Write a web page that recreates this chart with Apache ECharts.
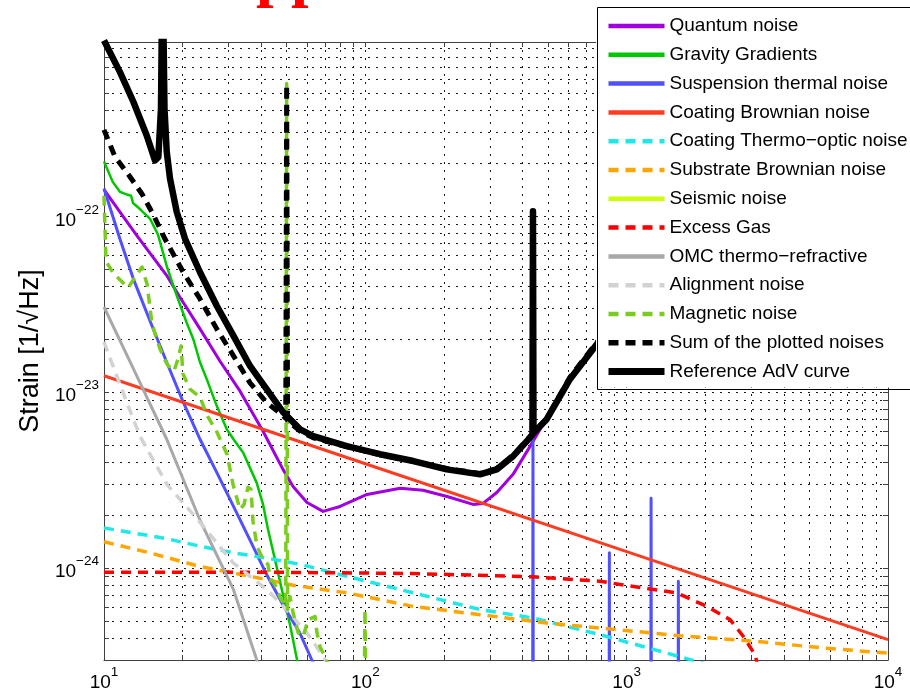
<!DOCTYPE html>
<html><head><meta charset="utf-8">
<script src="https://cdn.jsdelivr.net/npm/echarts@6/dist/echarts.min.js"></script>
<style>html,body{margin:0;padding:0;background:#fff}#c{width:910px;height:696px}</style>
</head><body><div id="c"></div>
<script>
// ---- data: [frequency Hz, strain 1/sqrt(Hz)] ----
const quantum = [[10,1.42e-22],[11.5,1.06e-22],[13.38,7.74e-23],[17.42,4.58e-23],[19.5,3.48e-23],[23.3,2.29e-23],[27.8,1.5e-23],[33.2,1.01e-23],[40.6,6.0e-24],[48.4,3.64e-24],[52.9,2.91e-24],[59.8,2.36e-24],[68.9,2.10e-24],[80,2.24e-24],[101.5,2.62e-24],[136,2.84e-24],[166.3,2.77e-24],[205.5,2.55e-24],[258.3,2.30e-24],[282.1,2.33e-24],[318.4,2.69e-24],[367.5,3.41e-24],[426.9,4.92e-24],[491.6,7.02e-24],[607.4,1.17e-23],[770,1.86e-23],[1000,2.4e-23],[10000,2.4e-22]];
const gravity = [[10,2.05e-22],[10.8,1.57e-22],[11.5,1.38e-22],[12.25,1.33e-22],[12.69,1.31e-22],[12.91,1.19e-22],[13.73,1.10e-22],[15.0,9.68e-23],[16.1,7.85e-23],[17.42,5.15e-23],[18.98,3.54e-23],[20.7,2.49e-23],[21.97,2.0e-23],[23.3,1.48e-23],[24.7,1.19e-23],[27.0,8.36e-24],[29.5,6.15e-24],[31.3,5.4e-24],[34.1,4.53e-24],[38.4,3.05e-24],[40.6,2.30e-24],[42.4,1.66e-24],[45.1,1.12e-24],[48.4,7.06e-25],[51.5,4.76e-25],[54.8,3.0e-25],[56.5,2.4e-25]];
// thermal curve, then violin-mode lines rising from below the plotted range
const suspension = [[10,1.44e-22],[11.5,7.45e-23],[12.95,4.41e-23],[15.0,2.54e-23],[17.38,1.48e-23],[20.1,8.77e-24],[23.3,5.4e-24],[27.0,3.5e-24],[31.3,2.24e-24],[36.2,1.44e-24],[41.9,9.18e-25],[48.6,6.11e-25],[56.3,4.24e-25],[62.4,3.0e-25],[65,2.7e-25],
  [436,1e-26],[438,5.4e-24],[440,1e-26],[855,1e-26],[858.6,1.22e-24],[862,1e-26],[1234,1e-26],[1240,2.49e-24],[1246,1e-26],[1570,1e-26],[1577,8.4e-25],[1584,1e-26]];
const coatingBrownian = [[10,1.24e-23],[100,3.92e-24],[1000,1.24e-24],[10000,3.92e-25]];
const coatingThermoOptic = [[10,1.69e-24],[17.38,1.47e-24],[23.3,1.33e-24],[31.3,1.22e-24],[41.9,1.14e-24],[56.3,1.05e-24],[84.9,8.98e-25],[152.7,7.23e-25],[274.8,5.81e-25],[438.5,5.2e-25],[791,4.18e-25],[1601,3.13e-25],[2500,2.6e-25]];
const substrateBrownian = [[10,1.41e-24],[15,1.22e-24],[23.3,1.02e-24],[36.2,8.98e-25],[53,7.98e-25],[84.9,7.23e-25],[152.7,6.05e-25],[274.8,5.43e-25],[494.6,4.87e-25],[791,4.56e-25],[1601,4.12e-25],[3148,3.83e-25],[5658,3.51e-25],[10000,3.28e-25]];
const seismic = []; // not visible inside the plotted range
const excessGas = [[10,9.46e-25],[47,9.46e-25],[152.7,9.31e-25],[438.5,8.91e-25],[791,8.41e-25],[1229,7.6e-25],[1555,7.23e-25],[2026,6.05e-25],[2487,5.09e-25],[2797,4.08e-25],[3100,3.21e-25],[3170,2.8e-25]];
const omcThermoRefractive = [[10,3.05e-23],[12.95,1.36e-23],[17.38,5.4e-24],[23.3,1.87e-24],[31.3,7.53e-25],[38.4,3.01e-25],[40,2.5e-25]];
const alignment = [[10,1.93e-23],[11.5,1.11e-23],[13.73,5.61e-24],[17.42,2.99e-24],[23.3,1.82e-24],[31.2,1.07e-24],[42.05,7.53e-25],[48.6,6.05e-25],[59.7,4.28e-25],[69.1,3.14e-25],[72,2.8e-25]];
const magnetic = [[10,1.31e-22],[10.09,8.49e-23],[10.18,5.57e-23],[10.82,4.77e-23],[11.72,4.24e-23],[12.35,3.92e-23],[13.02,4.41e-23],[13.98,5.15e-23],[14.61,4.12e-23],[15.27,2.44e-23],[16.38,1.76e-23],[17.42,1.44e-23],[18.53,1.32e-23],[19.19,1.54e-23],[19.71,1.83e-23],[20.06,1.27e-23],[21.34,1.04e-23],[23.3,9.37e-24],[24.79,7.4e-24],[27.06,5.92e-24],[29.56,4.44e-24],[31.17,2.99e-24],[33.15,2.15e-24],[34.35,2.30e-24],[35.57,2.88e-24],[36.52,2.8e-24],[37.17,1.84e-24],[38.5,1.33e-24],[40.6,1.12e-24],[42.4,1.05e-24],[43.2,8.83e-25],[45.5,7.85e-25],[47.6,6.62e-25],[49.6,6.11e-25],[50,5.7e-22],[50.4,5.81e-25],[51.5,6.89e-25],[52.9,5.57e-25],[55.3,4.29e-25],[57.8,4.07e-25],[60.4,5.09e-25],[64.2,5.3e-25],[65.3,4.29e-25],[67.1,3.57e-25],[70,3.13e-25],[73.3,2.7e-25],[99,2e-25],[99.7,5.81e-25],[100.4,2e-25]];
const sumNoises = [[10,3.1e-22],[11.02,2.18e-22],[12.57,1.68e-22],[13.98,1.34e-22],[15.4,1.03e-22],[17.1,7.45e-23],[20.1,4.81e-23],[23.3,3.39e-23],[27.0,2.29e-23],[31.3,1.61e-23],[36.2,1.13e-23],[41.9,8.73e-24],[48.6,7.33e-24],[49.6,7.1e-24],[50,5.6e-22],[50.4,6.9e-24],[56.3,6.0e-24],[63.2,5.5e-24],[84.9,4.9e-24],[113.8,4.4e-24],[152.7,4.05e-24],[204.9,3.68e-24],[274.8,3.45e-24],[318.4,3.68e-24],[368.5,4.4e-24],[426.9,5.6e-24],[494.6,7.1e-24],[607.4,1.22e-23],[770,1.93e-23],[1000,2.5e-23],[10000,2.5e-22]];
const referenceAdV = [[10,1.0e-21],[11.5,6.63e-22],[12.95,4.48e-22],[14.57,2.88e-22],[15.67,2.08e-22],[16.14,2.17e-22],[16.52,4.1e-22],[16.75,3e-21],[17.04,4.1e-22],[17.38,2.33e-22],[17.89,1.64e-22],[18.98,1.06e-22],[20.42,7.45e-23],[23.3,4.81e-23],[27.0,3.1e-23],[31.3,2.09e-23],[36.2,1.41e-23],[41.9,1.04e-23],[48.6,7.66e-24],[56.3,6.15e-24],[63.2,5.63e-24],[84.9,4.94e-24],[113.8,4.44e-24],[152.7,4.06e-24],[204.9,3.64e-24],[274.8,3.41e-24],[318.4,3.64e-24],[368.5,4.34e-24],[426.9,5.52e-24],[436,5.75e-24],[438,1.07e-22],[440,5.85e-24],[494.6,7.02e-24],[607.4,1.19e-23],[770,1.88e-23],[1000,2.44e-23],[10000,2.44e-22]];

// ---- axes ----
const xMin = 10, xMax = 10000;
const yMin = 3e-25, yMax = 9.8e-22;
const xLabelValues = [10, 100, 1000, 10000];
const xTickValues = [10,20,30,40,50,60,70,80,90,100,200,300,400,500,600,700,800,900,1000,2000,3000,4000,5000,6000,7000,8000,9000,10000];
const yLabelValues = [1e-24, 1e-23, 1e-22];
const yTickValues = [4e-25,5e-25,6e-25,7e-25,8e-25,9e-25,1e-24,2e-24,3e-24,4e-24,5e-24,6e-24,7e-24,8e-24,9e-24,1e-23,2e-23,3e-23,4e-23,5e-23,6e-23,7e-23,8e-23,9e-23,1e-22,2e-22,3e-22,4e-22,5e-22,6e-22,7e-22,8e-22,9e-22];
const yAxisTitle = 'Strain [1/\u221AHz]';

// the value axis works in units of 1e-25 strain (ECharts rounds tiny tick values)
const Y_UNIT_EXP = -25;
const toAxisY = v => +(v * Math.pow(10, -Y_UNIT_EXP)).toPrecision(12);

const FONT = '"Liberation Sans", Arial, Helvetica, sans-serif';
function supText(e) { return '{b|10}{s|' + (e < 0 ? '\u2212' + (-e) : String(e)) + '}'; }
const xLabelFmt = v => supText(Math.round(Math.log10(v)));
const yLabelFmt = v => supText(Math.round(Math.log10(v)) + Y_UNIT_EXP);
const rich = {
  b: {fontFamily: FONT, fontSize: 19, lineHeight: 20, color: '#000', verticalAlign: 'bottom'},
  s: {fontFamily: FONT, fontSize: 13.5, lineHeight: 14, color: '#000', verticalAlign: 'bottom', padding: [0, 0, 13, 0]}
};
const axisLineStyle = {color: '#404040', width: 1};
const gridLine = {show: true, lineStyle: {color: '#1a1a1a', width: 1, type: [2, 6]}};

const seriesDefs = [
  {name: 'Quantum noise', data: quantum, color: '#a000e0', width: 3, type: 'solid', legendWidth: 4.5},
  {name: 'Gravity Gradients', data: gravity, color: '#00c800', width: 2.5, type: 'solid', legendWidth: 4.5},
  {name: 'Suspension thermal noise', data: suspension, color: '#5050ff', width: 3, type: 'solid', legendWidth: 4.5},
  {name: 'Coating Brownian noise', data: coatingBrownian, color: '#ff3c22', width: 3, type: 'solid', legendWidth: 4.5},
  {name: 'Coating Thermo\u2212optic noise', data: coatingThermoOptic, color: '#1ee8e8', width: 3.5, type: [10, 7], legendWidth: 4.5},
  {name: 'Substrate Brownian noise', data: substrateBrownian, color: '#ffa500', width: 3.5, type: [10, 7], legendWidth: 4.5},
  {name: 'Seismic noise', data: seismic, color: '#ccff00', width: 3.5, type: 'solid', legendWidth: 4.5},
  {name: 'Excess Gas', data: excessGas, color: '#ff0000', width: 3.5, type: [10, 7], legendWidth: 4.5},
  {name: 'OMC thermo\u2212refractive', data: omcThermoRefractive, color: '#a8a8a8', width: 3, type: 'solid', legendWidth: 4.5},
  {name: 'Alignment noise', data: alignment, color: '#d2d2d2', width: 3.5, type: [10, 7], legendWidth: 4.5},
  {name: 'Magnetic noise', data: magnetic, color: '#7acc1e', width: 3.5, type: [10, 7], legendWidth: 4.5},
  {name: 'Sum of the plotted noises', data: sumNoises, color: '#000000', width: 5, type: [10, 7], legendWidth: 5.5},
  {name: 'Reference AdV curve', data: referenceAdV, color: '#000000', width: 6.5, type: 'solid', legendWidth: 7}
];

const chart = echarts.init(document.getElementById('c'), null, {renderer: 'canvas'});
chart.setOption({
  animation: false,
  backgroundColor: '#fff',
  grid: {left: 104, right: 22, top: 42, bottom: 36, containLabel: false},
  graphic: [
    {type: 'text', left: 256, top: -54, silent: true, z: 100,
     style: {text: 'pp', fill: '#ff0000', font: 'bold 63px "Liberation Serif", "Times New Roman", serif'}},
    // legend frame outline (its right side runs past the picture edge)
    {type: 'rect', left: 595, top: 5, silent: true, z: 100,
     shape: {x: 0, y: 0, width: 340, height: 382},
     style: {fill: null, stroke: '#000', lineWidth: 1}}
  ],
  legend: {
    orient: 'vertical', left: 596, top: 6,
    padding: [10, 40, 6, 9],
    backgroundColor: '#fff', borderWidth: 0,
    itemWidth: 56, itemHeight: 14, itemGap: 8.8,
    selectedMode: false,
    itemStyle: {opacity: 0, borderWidth: 0},
    textStyle: {fontFamily: FONT, fontSize: 19, lineHeight: 20, color: '#000'},
    data: seriesDefs.map(d => ({name: d.name, lineStyle: {width: d.legendWidth}}))
  },
  xAxis: [{
    type: 'log', logBase: 10, min: xMin, max: xMax, position: 'bottom',
    axisLine: {show: true, onZero: false, lineStyle: axisLineStyle},
    axisTick: {show: true, inside: true, length: 5, lineStyle: axisLineStyle, customValues: xTickValues},
    axisLabel: {show: true, margin: 12, customValues: xLabelValues, formatter: xLabelFmt, rich: rich},
    splitLine: gridLine, minorTick: {show: false}
  }, {
    type: 'log', logBase: 10, min: xMin, max: xMax, position: 'top',
    axisLine: {show: true, onZero: false, lineStyle: axisLineStyle},
    axisTick: {show: true, inside: true, length: 5, lineStyle: axisLineStyle, customValues: xTickValues},
    axisLabel: {show: false}, splitLine: {show: false}
  }],
  yAxis: [{
    type: 'log', logBase: 10, min: toAxisY(yMin), max: toAxisY(yMax), position: 'left',
    name: yAxisTitle, nameLocation: 'middle', nameGap: 60,
    nameTextStyle: {fontFamily: FONT, fontSize: 27, color: '#000'},
    axisLine: {show: true, onZero: false, lineStyle: axisLineStyle},
    axisTick: {show: true, inside: true, length: 5, lineStyle: axisLineStyle, customValues: yTickValues.map(toAxisY)},
    axisLabel: {show: true, margin: 5, customValues: yLabelValues.map(toAxisY), formatter: yLabelFmt, rich: rich, padding: [7, 0, 0, 0]},
    splitLine: gridLine, minorTick: {show: false}
  }, {
    type: 'log', logBase: 10, min: toAxisY(yMin), max: toAxisY(yMax), position: 'right',
    axisLine: {show: true, onZero: false, lineStyle: axisLineStyle},
    axisTick: {show: true, inside: true, length: 5, lineStyle: axisLineStyle, customValues: yTickValues.map(toAxisY)},
    axisLabel: {show: false}, splitLine: {show: false}
  }],
  series: seriesDefs.map(d => ({
    name: d.name, type: 'line', data: d.data.map(p => [p[0], toAxisY(p[1])]),
    xAxisIndex: 0, yAxisIndex: 0,
    symbol: 'none', showSymbol: false, smooth: false, clip: true, silent: true,
    color: d.color,
    lineStyle: {color: d.color, width: d.width, type: d.type, join: 'round', cap: 'butt'},
    emphasis: {disabled: true}
  }))
});
</script>
</body></html>
